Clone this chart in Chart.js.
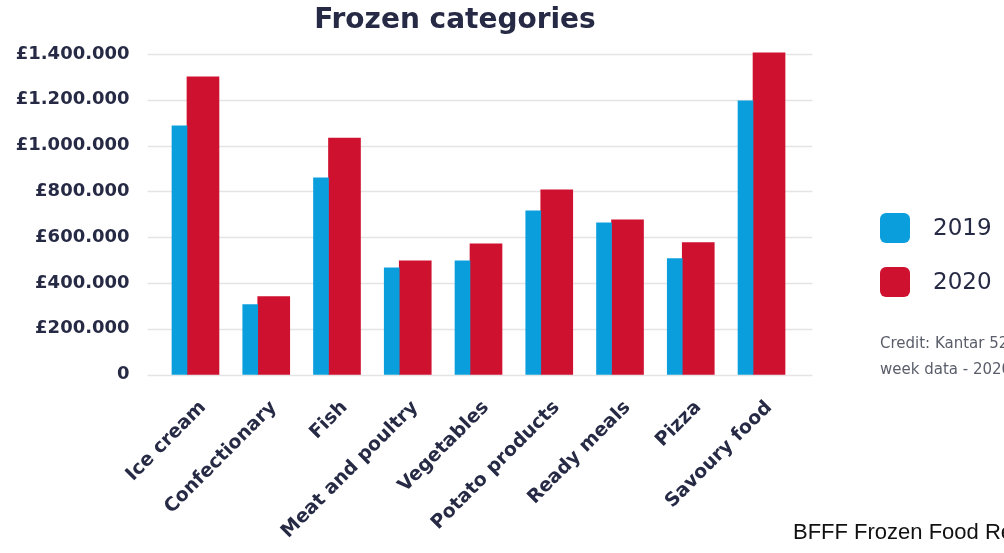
<!DOCTYPE html>
<html>
<head>
<meta charset="utf-8">
<script src="https://cdn.jsdelivr.net/npm/chart.js@4.4.1/dist/chart.umd.min.js"></script>
<style>
  html, body { margin: 0; padding: 0; background: #ffffff; }
  #wrap { width: 1004px; height: 553px; position: relative; }
</style>
</head>
<body>
<div id="wrap"><canvas id="c" width="1004" height="553"></canvas></div>
<script>
// ---- data ----
const categories = ['Ice cream', 'Confectionary', 'Fish', 'Meat and poultry', 'Vegetables', 'Potato products', 'Ready meals', 'Pizza', 'Savoury food'];
const seriesNames = ['2019', '2020'];
const values2019 = [1086000, 305000, 859000, 466000, 497000, 715000, 663000, 506000, 1195000];
const values2020 = [1300000, 340000, 1033000, 497000, 571000, 807000, 676000, 576000, 1405000];
const yTickValues = [0, 200000, 400000, 600000, 800000, 1000000, 1200000, 1400000];
const yTickLabels = ['0', '£200.000', '£400.000', '£600.000', '£800.000', '£1.000.000', '£1.200.000', '£1.400.000'];
const titleText = 'Frozen categories';
const creditLines = ['Credit: Kantar 52', 'week data - 2020'];
const footerText = 'BFFF Frozen Food Report';

const BLUE = '#0a9fdc';
const RED = '#cf1130';
const NAVY = '#262a44';

const extrasPlugin = {
  id: 'extras',
  beforeDatasetsDraw(chart) {
    const { ctx, chartArea } = chart;
    const y = chart.scales.y;
    ctx.save();
    ctx.strokeStyle = '#e4e4e4';
    ctx.lineWidth = 1.5;
    yTickValues.forEach(v => {
      const py = Math.round(y.getPixelForValue(v)) + 0.5;
      ctx.beginPath();
      ctx.moveTo(chartArea.left - 4, py);
      ctx.lineTo(chartArea.right + 24, py);
      ctx.stroke();
    });
    ctx.restore();
  },
  afterDraw(chart) {
    const { ctx } = chart;
    ctx.save();
    // title
    ctx.fillStyle = NAVY;
    ctx.font = 'bold 28px "DejaVu Sans"';
    ctx.textAlign = 'center';
    ctx.textBaseline = 'middle';
    ctx.fillText(titleText, 455, 21);
    // legend
    const colors = [BLUE, RED];
    const boxY = [213, 267];
    chart.data.datasets.forEach((ds, i) => {
      ctx.fillStyle = colors[i];
      ctx.beginPath();
      if (ctx.roundRect) ctx.roundRect(880, boxY[i], 30, 30, 6); else ctx.rect(880, boxY[i], 30, 30);
      ctx.fill();
      ctx.fillStyle = NAVY;
      ctx.font = '23px "DejaVu Sans"';
      ctx.textAlign = 'left';
      ctx.textBaseline = 'middle';
      ctx.fillText(ds.label, 933, boxY[i] + 16);
    });
    // credit
    ctx.fillStyle = '#5a5e6a';
    ctx.font = '15px "DejaVu Sans"';
    ctx.textBaseline = 'middle';
    ctx.fillText(creditLines[0], 880, 344);
    ctx.fillText(creditLines[1], 880, 370);
    // footer
    ctx.fillStyle = '#111111';
    ctx.font = '22px "Liberation Sans"';
    ctx.fillText(footerText, 793, 533);
    ctx.restore();
  }
};

new Chart(document.getElementById('c'), {
  type: 'bar',
  data: {
    labels: categories,
    datasets: [
      { label: seriesNames[0], data: values2019, backgroundColor: BLUE, barThickness: 15, clip: false },
      { label: seriesNames[1], data: values2020, backgroundColor: RED, barThickness: 32, clip: false }
    ]
  },
  options: {
    responsive: false,
    animation: false,
    devicePixelRatio: 1,
    layout: { padding: { top: 54, left: 0, right: 215.6, bottom: 0 } },
    plugins: {
      legend: { display: false },
      title: { display: false },
      tooltip: { enabled: false }
    },
    scales: {
      x: {
        grid: { display: false, drawTicks: false },
        border: { display: false },
        ticks: {
          autoSkip: false,
          maxRotation: 45,
          minRotation: 45,
          labelOffset: 16,
          padding: 22,
          color: NAVY,
          font: { family: 'DejaVu Sans', weight: 'bold', size: 19 }
        },
        afterFit(scale) { scale.height = 178.5; }
      },
      y: {
        min: 0,
        max: 1400000,
        grid: { display: false, drawTicks: false },
        border: { display: false },
        afterBuildTicks(scale) { scale.ticks = yTickValues.map(v => ({ value: v })); },
        ticks: {
          padding: 22,
          color: NAVY,
          font: { family: 'DejaVu Sans', weight: 'bold', size: 18 },
          callback(value) {
            const i = yTickValues.indexOf(value);
            return i >= 0 ? yTickLabels[i] : '';
          }
        },
        afterFit(scale) { scale.width = 151.6; }
      }
    }
  },
  plugins: [extrasPlugin]
});
</script>
</body>
</html>
